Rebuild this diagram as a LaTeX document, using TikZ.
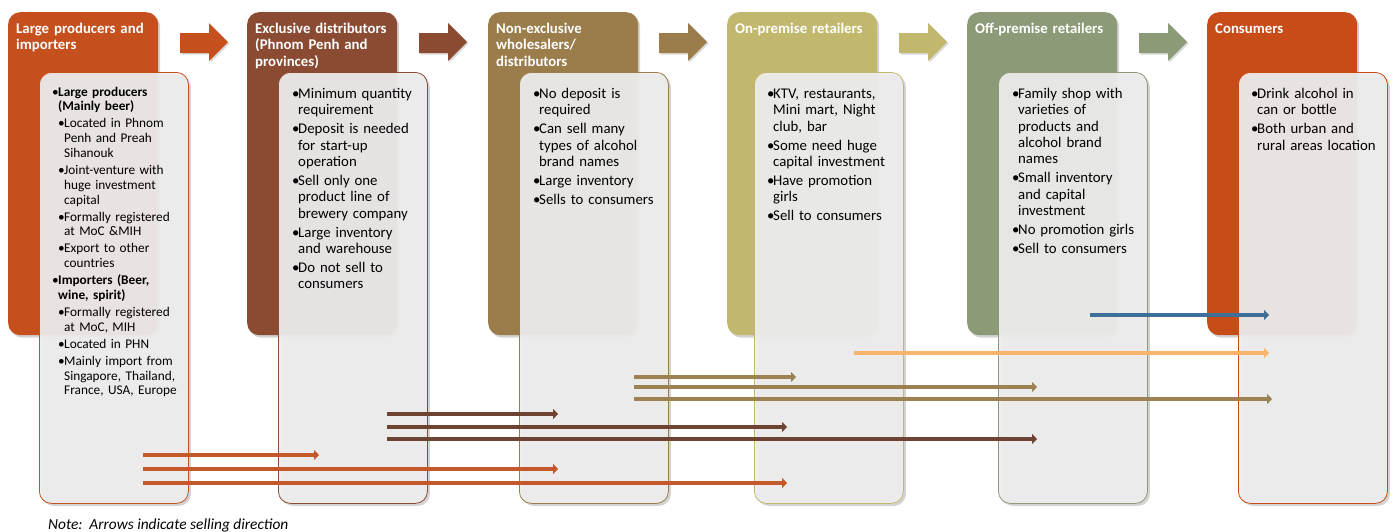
\documentclass[tikz,border=0pt]{standalone}
\usepackage{fontspec}
\setmainfont{Carlito}
\usetikzlibrary{arrows.meta,shadows}

\definecolor{prodC}{HTML}{C5501E}
\definecolor{exclC}{HTML}{8A4B32}
\definecolor{nonxC}{HTML}{9B7D4B}
\definecolor{onprC}{HTML}{C1B86E}
\definecolor{offpC}{HTML}{8D9A78}
\definecolor{consC}{HTML}{C84C18}
\definecolor{txfill}{HTML}{EEEEEE}
\definecolor{prodL}{HTML}{C4582B}
\definecolor{exclL}{HTML}{6F4331}
\definecolor{nonxL}{HTML}{9C8253}
\definecolor{onprL}{HTML}{F8B46B}
\definecolor{offpL}{HTML}{3D6F99}

\newcommand{\bul}[1]{\par\hangindent=6pt\hangafter=1\noindent\makebox[6pt][l]{\textbullet}#1}
\newcommand{\subbul}[1]{\par\hangindent=12pt\hangafter=1\noindent\hspace*{6pt}\makebox[6pt][l]{\textbullet}#1}

\begin{document}
\begin{tikzpicture}[x=1pt,y=-1pt,>={Triangle[length=5pt,width=10pt]},
  hdbox/.style={anchor=north west,minimum width=150pt,minimum height=323pt,
    rounded corners=12pt,inner sep=0pt,
    drop shadow={shadow xshift=2pt,shadow yshift=-2.5pt,opacity=0.35}},
  txbox/.style={anchor=north west,minimum width=149pt,minimum height=431pt,
    rounded corners=12pt,inner sep=0pt,fill=txfill,fill opacity=0.92,line width=0.8pt,
    drop shadow={shadow xshift=2.5pt,shadow yshift=-2.5pt,opacity=0.35}},
  hdtext/.style={anchor=base west,inner sep=0pt,text width=140pt,align=left,text=white,
    font=\fontsize{14.8}{16.5}\selectfont\bfseries},
  bodytext/.style={anchor=base west,inner sep=0pt,text width=140pt,align=left,
    font=\fontsize{14.8}{16.3}\selectfont,execute at begin node={\setlength{\parskip}{2.7pt}}},
  smalltext/.style={bodytext,font=\fontsize{13.3}{14.8}\selectfont,
    execute at begin node={\setlength{\parskip}{2.2pt}}},
  sellarr/.style={->,line width=4pt},
  blockarr/.style={drop shadow={shadow xshift=1.5pt,shadow yshift=-1.5pt,opacity=0.3}}]

\useasboundingbox (0,0) rectangle (1393,531);

% block arrows between the stages
\foreach \x/\c in {180/prodC,419/exclC,659/nonxC,899/onprC,1139/offpC}
  \fill[\c,blockarr] (\x,33) -- ++(29,0) -- ++(0,-10) -- ++(19,19) -- ++(-19,19) -- ++(0,-8) -- ++(-29,0) -- cycle;

% stage boxes
\node[hdbox,fill=prodC] (prodH) at (8,12) {};
\node[hdbox,fill=exclC] (exclH) at (247,12) {};
\node[hdbox,fill=nonxC] (nonxH) at (488,12) {};
\node[hdbox,fill=onprC] (onprH) at (727,12) {};
\node[hdbox,fill=offpC] (offpH) at (967,12) {};
\node[hdbox,fill=consC] (consH) at (1207,12) {};

\node[txbox,draw=prodC] (prodT) at (39,72) {};
\node[txbox,draw=exclC] (exclT) at (278,72) {};
\node[txbox,draw=nonxC] (nonxT) at (519,72) {};
\node[txbox,draw=onprC] (onprT) at (754,72) {};
\node[txbox,draw=offpC] (offpT) at (998,72) {};
\node[txbox,draw=consC] (consT) at (1238,72) {};

\node[hdtext] (prodN) at (16,33) {Large producers and\\importers};
\node[hdtext] (exclN) at (255,33) {Exclusive distributors\\(Phnom Penh and\\provinces)};
\node[hdtext] (nonxN) at (496,33) {Non-exclusive\\wholesalers/\\distributors};
\node[hdtext] (onprN) at (735,33) {On-premise retailers};
\node[hdtext] (offpN) at (975,33) {Off-premise retailers};
\node[hdtext] (consN) at (1215,33) {Consumers};

\node[smalltext] (prodB) at (52,79) {%
\bul{\textbf{Large producers\newline (Mainly beer)}}
\subbul{Located in Phnom\newline Penh and Preah\newline Sihanouk}
\subbul{Joint-venture with\newline huge investment\newline capital}
\subbul{Formally registered\newline at MoC \&MIH}
\subbul{Export to other\newline countries}
\bul{\textbf{Importers (Beer,\newline wine, spirit)}}
\subbul{Formally registered\newline at MoC, MIH}
\subbul{Located in PHN}
\subbul{Mainly import from\newline Singapore, Thailand,\newline France, USA, Europe}\par};

\node[bodytext] (exclB) at (292,79.5) {%
\bul{Minimum quantity\newline requirement}
\bul{Deposit is needed\newline for start-up\newline operation}
\bul{Sell only one\newline product line of\newline brewery company}
\bul{Large inventory\newline and warehouse}
\bul{Do not sell to\newline consumers}\par};

\node[bodytext] (nonxB) at (533,79.5) {%
\bul{No deposit is\newline required}
\bul{Can sell many\newline types of alcohol\newline brand names}
\bul{Large inventory}
\bul{Sells to consumers}\par};

\node[bodytext] (onprB) at (767,79.5) {%
\bul{KTV, restaurants,\newline Mini mart, Night\newline club, bar}
\bul{Some need huge\newline capital investment}
\bul{Have promotion\newline girls}
\bul{Sell to consumers}\par};

\node[bodytext] (offpB) at (1012,79.5) {%
\bul{Family shop with\newline varieties of\newline products and\newline alcohol brand\newline names}
\bul{Small inventory\newline and capital\newline investment}
\bul{No promotion girls}
\bul{Sell to consumers}\par};

\node[bodytext] (consB) at (1251,79.5) {%
\bul{Drink alcohol in\newline can or bottle}
\bul{Both urban and\newline rural areas location}\par};

% selling directions
\coordinate (pr1) at (143,455); \coordinate (pr1e) at (319,455);
\coordinate (pr2) at (143,469); \coordinate (pr2e) at (558,469);
\coordinate (pr3) at (143,483); \coordinate (pr3e) at (787,483);
\coordinate (ex1) at (387,414); \coordinate (ex1e) at (558,414);
\coordinate (ex2) at (387,427); \coordinate (ex2e) at (787,427);
\coordinate (ex3) at (387,439); \coordinate (ex3e) at (1037,439);
\coordinate (nx1) at (634,377); \coordinate (nx1e) at (796,377);
\coordinate (nx2) at (634,387); \coordinate (nx2e) at (1037,387);
\coordinate (nx3) at (634,399); \coordinate (nx3e) at (1272,399);
\coordinate (on1) at (854,353); \coordinate (on1e) at (1269,353);
\coordinate (of1) at (1090,315); \coordinate (of1e) at (1269,315);

\draw[sellarr,prodL] (pr1) -- (pr1e);
\draw[sellarr,prodL] (pr2) -- (pr2e);
\draw[sellarr,prodL] (pr3) -- (pr3e);
\draw[sellarr,exclL] (ex1) -- (ex1e);
\draw[sellarr,exclL] (ex2) -- (ex2e);
\draw[sellarr,exclL] (ex3) -- (ex3e);
\draw[sellarr,nonxL] (nx1) -- (nx1e);
\draw[sellarr,nonxL] (nx2) -- (nx2e);
\draw[sellarr,nonxL] (nx3) -- (nx3e);
\draw[sellarr,onprL,line width=3.5pt] (on1) -- (on1e);
\draw[sellarr,offpL,line width=3.5pt] (of1) -- (of1e);

\node[anchor=base west,inner sep=0pt,font=\fontsize{15.4}{17}\selectfont\itshape] (note) at (48,529)
  {Note:\ \ Arrows indicate selling direction};

\end{tikzpicture}
\end{document}
